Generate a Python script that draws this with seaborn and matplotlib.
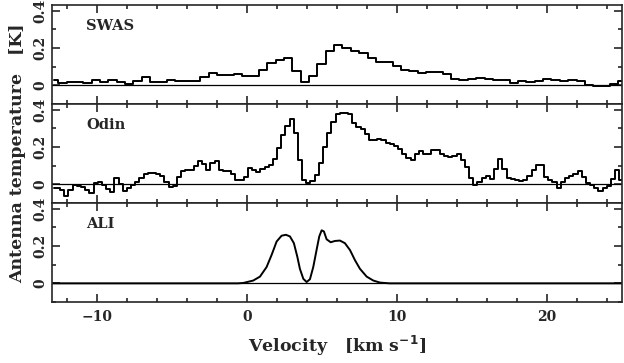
import numpy as np
import pandas as pd
import seaborn as sns
import matplotlib.pyplot as plt
from matplotlib.ticker import MultipleLocator

# SWAS spectrum (channel width ~0.557 km/s, first edge at -13.13 km/s)
swas_v0 = -13.13
swas_dv = 0.557
swas_T = [0.027, 0.013, 0.016, 0.020, 0.011, 0.027, 0.018, 0.031, 0.016, 0.007,
          0.023, 0.047, 0.018, 0.018, 0.029, 0.022, 0.025, 0.025, 0.043, 0.068,
          0.058, 0.058, 0.059, 0.050, 0.050, 0.085, 0.119, 0.137, 0.148, 0.077,
          0.018, 0.052, 0.113, 0.182, 0.214, 0.198, 0.182, 0.171, 0.148, 0.126,
          0.126, 0.105, 0.083, 0.076, 0.068, 0.070, 0.074, 0.059, 0.036, 0.027,
          0.034, 0.040, 0.034, 0.031, 0.029, 0.014, 0.022, 0.016, 0.023, 0.036,
          0.031, 0.022, 0.029, 0.023, 0.004, -0.002, -0.005, 0.009, 0.022]

# Odin spectrum (channel width ~0.278 km/s, first edge at -13.0 km/s)
odin_v0 = -13.0
odin_dv = 0.278
odin_T = [-0.018, -0.018, -0.030, -0.060, -0.030, -0.005, -0.010, -0.012, -0.030, -0.045,
          0.005, 0.010, -0.005, -0.023, -0.040, 0.034, 0.000, -0.034, -0.018, -0.005,
          0.013, 0.036, 0.054, 0.062, 0.061, 0.056, 0.045, 0.010, -0.014, -0.008,
          0.040, 0.073, 0.075, 0.076, 0.096, 0.123, 0.107, 0.079, 0.114, 0.123,
          0.079, 0.071, 0.072, 0.057, 0.025, 0.022, 0.039, 0.088, 0.075, 0.066,
          0.084, 0.093, 0.102, 0.137, 0.195, 0.262, 0.314, 0.348, 0.277, 0.129,
          0.025, 0.008, 0.020, 0.048, 0.114, 0.200, 0.277, 0.334, 0.379, 0.382,
          0.382, 0.375, 0.329, 0.307, 0.298, 0.271, 0.236, 0.236, 0.245, 0.239,
          0.223, 0.214, 0.205, 0.191, 0.164, 0.143, 0.132, 0.164, 0.177, 0.161,
          0.164, 0.182, 0.182, 0.164, 0.150, 0.146, 0.150, 0.161, 0.129, 0.093,
          0.036, -0.005, 0.013, 0.036, 0.043, 0.030, 0.084, 0.134, 0.084, 0.036,
          0.030, 0.025, 0.018, 0.025, 0.043, 0.075, 0.102, 0.102, 0.039, 0.025,
          0.013, -0.018, 0.013, 0.036, 0.043, 0.054, 0.071, 0.039, 0.007, -0.005,
          -0.018, -0.036, -0.018, -0.011, 0.030, 0.075, 0.021, -0.005, 0.013]

# ALI model spectrum
ali_v = [-13.0, -0.6, -0.24, 0.42, 0.87, 1.31, 1.64, 1.98, 2.31, 2.60, 2.87, 3.13,
         3.36, 3.53, 3.76, 3.98, 4.20, 4.42, 4.64, 4.82, 4.98, 5.13, 5.31, 5.58,
         5.87, 6.20, 6.53, 6.87, 7.20, 7.53, 7.98, 8.42, 8.87, 9.5, 25.0]
ali_T = [0.0, 0.0, 0.002, 0.015, 0.036, 0.087, 0.151, 0.224, 0.255, 0.260, 0.251, 0.215,
         0.142, 0.078, 0.024, 0.007, 0.022, 0.087, 0.178, 0.251, 0.284, 0.278, 0.236, 0.220,
         0.227, 0.229, 0.215, 0.178, 0.124, 0.078, 0.036, 0.015, 0.004, 0.0, 0.0]

names = ['SWAS', 'Odin', 'ALI']

swas = pd.DataFrame({'v': swas_v0 + swas_dv * (np.arange(len(swas_T)) + 0.5), 'T': swas_T})
odin = pd.DataFrame({'v': odin_v0 + odin_dv * (np.arange(len(odin_T)) + 0.5), 'T': odin_T})
ali = pd.DataFrame({'v': ali_v, 'T': ali_T})

sns.set_style('ticks')
plt.rcParams['font.family'] = ['DejaVu Serif']
plt.rcParams['font.weight'] = 'bold'
plt.rcParams['font.size'] = 10

fig, axes = plt.subplots(3, 1, sharex=True, figsize=(6.24, 3.63), dpi=100,
                         gridspec_kw=dict(hspace=0))
fig.subplots_adjust(left=0.083, right=0.997, top=0.986, bottom=0.168)

sns.lineplot(data=swas, x='v', y='T', ax=axes[0], color='black', lw=1.4,
             drawstyle='steps-mid', estimator=None)
sns.lineplot(data=odin, x='v', y='T', ax=axes[1], color='black', lw=1.4,
             drawstyle='steps-mid', estimator=None)
sns.lineplot(data=ali, x='v', y='T', ax=axes[2], color='black', lw=1.4,
             estimator=None)

for ax, name in zip(axes, names):
    ax.axhline(0, color='black', lw=0.9)
    ax.set_xlim(-13, 25)
    ax.set_ylim(-0.1, 0.43)
    ax.xaxis.set_major_locator(MultipleLocator(10))
    ax.xaxis.set_minor_locator(MultipleLocator(2))
    ax.yaxis.set_major_locator(MultipleLocator(0.2))
    ax.yaxis.set_minor_locator(MultipleLocator(0.1))
    ax.tick_params(which='both', direction='in', top=True, right=True, width=1.2)
    ax.tick_params(which='major', length=6)
    ax.tick_params(which='minor', length=3)
    ax.set_yticks([0, 0.2, 0.4])
    ax.set_yticklabels(['0', '0.2', '0.4'], rotation=90, va='center')
    ax.set_xlabel('')
    ax.set_ylabel('')
    for s in ax.spines.values():
        s.set_linewidth(1.2)
    ax.text(-10.7, 0.32, name, fontweight='bold', fontsize=10.5, va='center')

axes[2].set_xticks([-10, 0, 10, 20])
axes[2].set_xticklabels(['\u221210', '0', '10', '20'])
axes[2].tick_params(axis='x', pad=6)
axes[2].set_xlabel('Velocity   [km s$^{-1}$]', fontweight='bold', fontsize=12.5,
                   labelpad=7)
axes[1].set_ylabel('Antenna temperature   [K]', fontweight='bold', fontsize=12.5,
                   labelpad=5)

fig.savefig('out.png', dpi=100)
